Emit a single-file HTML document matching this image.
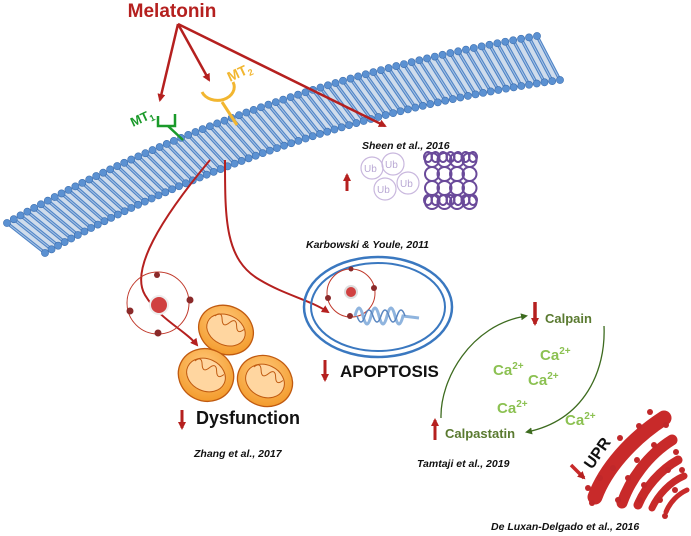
<!DOCTYPE html>
<html><head><meta charset="utf-8"><style>
html,body{margin:0;padding:0;background:#fff}
svg{display:block}
text{font-family:"Liberation Sans",sans-serif}
.b{font-weight:bold}
.ref{font-weight:bold;font-style:italic;font-size:10.5px;fill:#111}
.ca{fill:#8cc152;font-weight:bold;font-size:15px}
</style></head><body>
<svg id="s" width="691" height="536" viewBox="0 0 691 536" xmlns="http://www.w3.org/2000/svg">
<defs>
<marker id="ar" markerWidth="8" markerHeight="8" refX="6" refY="4" orient="auto" markerUnits="userSpaceOnUse"><path d="M0,0 L8,4 L0,8 z" fill="#b5201f"/></marker>
<marker id="ag" markerWidth="7" markerHeight="7" refX="5" refY="3.5" orient="auto" markerUnits="userSpaceOnUse"><path d="M0,0 L7,3.5 L0,7 z" fill="#3d6b1f"/></marker>
<radialGradient id="mi" cx="0.4" cy="0.35" r="0.7"><stop offset="0" stop-color="#ffc87a"/><stop offset="1" stop-color="#f39a2a"/></radialGradient>
</defs>
<g id="mem"></g>

<!-- Melatonin -->
<text x="172" y="17" text-anchor="middle" class="b" font-size="19" fill="#b5201f">Melatonin</text>
<g stroke="#b5201f" stroke-width="2.5" fill="none">
<line x1="178" y1="24" x2="160" y2="100" marker-end="url(#ar)"/>
<line x1="178" y1="24" x2="209" y2="80" marker-end="url(#ar)"/>
<line x1="178" y1="24" x2="385" y2="126" marker-end="url(#ar)"/>
</g>
<!-- MT1 -->
<g stroke="#1a9a2a" stroke-width="2.5" fill="none">
<path d="M158,116 L158,126 L175,126 L175,114"/><line x1="168" y1="126" x2="183" y2="140"/>
</g>
<text x="133" y="127" class="b" font-size="13" fill="#1a9a2a" transform="rotate(-25 133 127)">MT<tspan font-size="9" dy="3">1</tspan></text>
<!-- MT2 -->
<g stroke="#f2b630" stroke-width="3" fill="none">
<path d="M202,92 A15,12 0 0 0 233,82"/><line x1="222" y1="102" x2="237" y2="125"/>
</g>
<text x="230" y="82" class="b" font-size="14" fill="#f2b630" transform="rotate(-25 230 82)">MT<tspan font-size="9" dy="3">2</tspan></text>

<!-- Sheen -->
<text x="362" y="149" class="ref">Sheen et al., 2016</text>
<g stroke="#c9b8de" stroke-width="1.2" fill="none">
<circle cx="372" cy="168" r="11"/><circle cx="393" cy="164" r="11"/><circle cx="385" cy="189" r="11"/><circle cx="408" cy="183" r="11"/>
</g>
<g fill="#b9a8d4" font-size="10"><text x="364" y="172">Ub</text><text x="385" y="168">Ub</text><text x="377" y="193">Ub</text><text x="400" y="187">Ub</text></g>
<g id="lat" stroke="#6a4a9a" stroke-width="2" fill="none"></g>
<line x1="347" y1="191" x2="347" y2="175" stroke="#b5201f" stroke-width="3" marker-end="url(#ar)"/>

<!-- curves -->
<g stroke="#b5201f" stroke-width="2" fill="none">
<path d="M210,160 C160,220 130,270 145,295 C160,320 185,330 197,345" marker-end="url(#ar)"/>
<path d="M225,160 C225,220 225,260 260,280 C285,295 310,300 328,312" marker-end="url(#ar)"/>
</g>
<!-- atom left -->
<circle cx="158" cy="303" r="31" fill="none" stroke="#c0392b" stroke-width="1"/>
<circle cx="159" cy="305" r="9" fill="#d04040" stroke="#eee" stroke-width="2"/>
<g fill="#8b2a2a"><circle cx="157" cy="275" r="3"/><circle cx="190" cy="300" r="3.5"/><circle cx="130" cy="311" r="3.5"/><circle cx="158" cy="333" r="3.5"/></g>
<!-- mitochondria -->
<g stroke="#c05a10" stroke-width="1.3">
<ellipse cx="226" cy="330" rx="28" ry="24" fill="url(#mi)" transform="rotate(25 226 330)"/>
<ellipse cx="206" cy="375" rx="28" ry="26" fill="url(#mi)" transform="rotate(25 206 375)"/>
<ellipse cx="265" cy="381" rx="28" ry="25" fill="url(#mi)" transform="rotate(25 265 381)"/>
</g>
<g fill="#ffd6a0" stroke="#c05a10" stroke-width="1">
<ellipse cx="226" cy="330" rx="20" ry="15" transform="rotate(25 226 330)"/>
<ellipse cx="206" cy="375" rx="20" ry="16" transform="rotate(25 206 375)"/>
<ellipse cx="265" cy="381" rx="20" ry="16" transform="rotate(25 265 381)"/>
</g>
<g fill="none" stroke="#c05a10" stroke-width="1">
<path d="M210,322 q4,-8 8,0 q4,8 8,0 q4,-8 8,0 q4,8 8,0" transform="rotate(25 226 330)"/>
<path d="M190,367 q4,-8 8,0 q4,8 8,0 q4,-8 8,0 q4,8 8,0" transform="rotate(25 206 375)"/>
<path d="M249,373 q4,-8 8,0 q4,8 8,0 q4,-8 8,0 q4,8 8,0" transform="rotate(25 265 381)"/>
</g>
<line x1="182" y1="410" x2="182" y2="428" stroke="#b5201f" stroke-width="3" marker-end="url(#ar)"/>
<text x="196" y="424" class="b" font-size="18" fill="#111">Dysfunction</text>
<text x="194" y="457" class="ref">Zhang et al., 2017</text>

<!-- nucleus -->
<text x="306" y="248" class="ref">Karbowski &amp; Youle, 2011</text>
<ellipse cx="378" cy="307" rx="74" ry="50" fill="none" stroke="#3a78c0" stroke-width="2.5"/>
<ellipse cx="378" cy="307" rx="67" ry="44" fill="none" stroke="#3a78c0" stroke-width="2"/>
<circle cx="351" cy="293" r="24" fill="none" stroke="#c0392b" stroke-width="1"/>
<circle cx="351" cy="292" r="6" fill="#d04040" stroke="#ddd" stroke-width="2"/>
<g fill="#8b2a2a"><circle cx="351" cy="269" r="2.5"/><circle cx="374" cy="288" r="3"/><circle cx="328" cy="298" r="3"/><circle cx="350" cy="316" r="3"/></g>
<path d="M355,316 q4,-16 8,0 q4,16 8,0 q4,-16 8,0 q4,16 8,0 q4,-16 8,0 q4,16 8,0 l16,2" fill="none" stroke="#8fb4de" stroke-width="3"/>
<path d="M357,316 q4,12 8,0 q4,-12 8,0 q4,12 8,0 q4,-12 8,0 q4,12 8,0 q4,-12 8,0" fill="none" stroke="#5a86c0" stroke-width="1.5"/>
<line x1="325" y1="360" x2="325" y2="380" stroke="#b5201f" stroke-width="3" marker-end="url(#ar)"/>
<text x="340" y="377" class="b" font-size="17" fill="#111">APOPTOSIS</text>

<!-- calpain loop -->
<g stroke="#3d6b1f" stroke-width="1.3" fill="none">
<path d="M441,418 C440,380 470,325 526,316" marker-end="url(#ag)"/>
<path d="M604,326 C606,370 585,420 527,432" marker-end="url(#ag)"/>
</g>
<line x1="535" y1="302" x2="535" y2="324" stroke="#b5201f" stroke-width="3.5" marker-end="url(#ar)"/>
<text x="545" y="323" class="b" font-size="13" fill="#5a7a30">Calpain</text>
<line x1="435" y1="440" x2="435" y2="420" stroke="#b5201f" stroke-width="3" marker-end="url(#ar)"/>
<text x="445" y="438" class="b" font-size="13" fill="#5a7a30">Calpastatin</text>
<text x="540" y="360" class="ca">Ca<tspan font-size="10" dy="-6">2+</tspan></text>
<text x="493" y="375" class="ca">Ca<tspan font-size="10" dy="-6">2+</tspan></text>
<text x="528" y="385" class="ca">Ca<tspan font-size="10" dy="-6">2+</tspan></text>
<text x="497" y="413" class="ca">Ca<tspan font-size="10" dy="-6">2+</tspan></text>
<text x="565" y="425" class="ca">Ca<tspan font-size="10" dy="-6">2+</tspan></text>
<text x="417" y="467" class="ref">Tamtaji et al., 2019</text>

<!-- ER -->
<g stroke="#c82a2a" fill="none" stroke-linecap="round">
<path d="M595,497 C605,470 630,440 664,418" stroke-width="15"/>
<path d="M622,503 C630,480 648,455 672,440" stroke-width="11"/>
<path d="M638,505 C645,488 660,470 678,460" stroke-width="9"/>
<path d="M652,508 C658,495 670,482 684,476" stroke-width="7"/>
<path d="M666,512 C670,502 678,494 687,490" stroke-width="5"/>
</g>
<g fill="#c0282a"><circle cx="650" cy="412" r="3"/><circle cx="639" cy="426" r="3"/><circle cx="620" cy="438" r="3"/><circle cx="613" cy="468" r="3"/><circle cx="600" cy="478" r="3"/><circle cx="588" cy="488" r="3"/><circle cx="592" cy="503" r="3"/><circle cx="666" cy="425" r="3"/><circle cx="654" cy="445" r="3"/><circle cx="637" cy="460" r="3"/><circle cx="628" cy="478" r="3"/><circle cx="618" cy="500" r="3"/><circle cx="676" cy="452" r="3"/><circle cx="668" cy="470" r="3"/><circle cx="644" cy="485" r="3"/><circle cx="640" cy="500" r="3"/><circle cx="682" cy="470" r="3"/><circle cx="675" cy="490" r="3"/><circle cx="660" cy="500" r="3"/><circle cx="665" cy="516" r="3"/></g>
<line x1="571" y1="465" x2="584" y2="478" stroke="#c82a2a" stroke-width="3.5" marker-end="url(#ar)"/>
<text x="592" y="470" class="b" font-size="16" fill="#111" transform="rotate(-55 592 470)">UPR</text>
<text x="491" y="530" class="ref">De Luxan-Delgado et al., 2016</text>
</svg>
<script>
(function(){
var ns="http://www.w3.org/2000/svg",m=document.getElementById("mem");
function q(a,c,b,s){return a*(1-s)*(1-s)+2*c*s*(1-s)+b*s*s;}
function T(s){return [q(7,250,537,s),q(223,85,36,s)];}
function B(s){return [q(45,280,560,s),q(253,120,80,s)];}
function el(n,a){var e=document.createElementNS(ns,n);for(var k in a)e.setAttribute(k,a[k]);m.appendChild(e);return e;}
var N=72,i,s,t,b;
var d="M"+T(0)+" ";for(i=1;i<=40;i++)d+="L"+T(i/40)+" ";for(i=40;i>=0;i--)d+="L"+B(i/40)+" ";
el("path",{d:d+"Z",fill:"#cfdcec"});
for(i=0;i<=N;i++){s=i/N;t=T(s);b=B(s);
el("line",{x1:t[0],y1:t[1],x2:b[0],y2:b[1],stroke:"#4f84c6","stroke-width":3.2});
el("line",{x1:t[0],y1:t[1],x2:b[0],y2:b[1],stroke:"#a9c4e6","stroke-width":1});}
for(i=0;i<=N;i++){s=i/N;t=T(s);b=B(s);
el("circle",{cx:t[0],cy:t[1],r:3.6,fill:"#5b91d2",stroke:"#3e70b0","stroke-width":0.6});
el("circle",{cx:b[0],cy:b[1],r:3.6,fill:"#5b91d2",stroke:"#3e70b0","stroke-width":0.6});}
var l=document.getElementById("lat");
for(var r=0;r<4;r++)for(var c=0;c<4;c++){var e=document.createElementNS(ns,"circle");e.setAttribute("cx",432+c*12.5);e.setAttribute("cy",160+r*14);e.setAttribute("r",7);l.appendChild(e);}
for(var c=0;c<7;c++){[157,200].forEach(function(y){var e=document.createElementNS(ns,"ellipse");e.setAttribute("cx",428+c*7.5);e.setAttribute("cy",y);e.setAttribute("rx",4);e.setAttribute("ry",5);l.appendChild(e);});}
})();
</script>
</body></html>
